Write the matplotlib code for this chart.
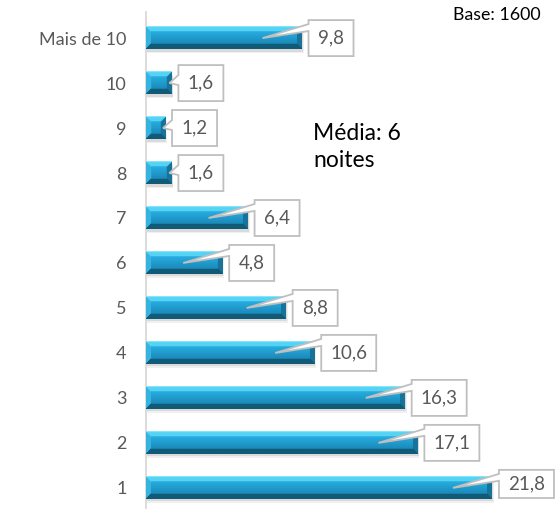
import numpy as np
import matplotlib
matplotlib.use("Agg")
import matplotlib.pyplot as plt
from matplotlib.patches import Polygon
from matplotlib.colors import to_rgb

plt.rcParams['font.family'] = ['Lato', 'DejaVu Sans']

categories = ['1', '2', '3', '4', '5', '6', '7', '8', '9', '10', 'Mais de 10']
values = [21.8, 17.1, 16.3, 10.6, 8.8, 4.8, 6.4, 1.6, 1.2, 1.6, 9.8]
value_labels = ['21,8', '17,1', '16,3', '10,6', '8,8', '4,8', '6,4', '1,6', '1,2', '1,6', '9,8']
note_text = 'Média: 6\nnoites'
base_text = 'Base: 1600'

W, H, DPI = 556, 509, 100
fig = plt.figure(figsize=(W / DPI, H / DPI), dpi=DPI)
ax = fig.add_axes([146 / W, 0, 1 - 146 / W, 497 / H])
XMAX = 410 / 15.87
ax.set_xlim(0, XMAX)
ax.set_ylim(-0.47, 10.58)

bar_h = 0.49
ypos = np.arange(len(categories))

# base bars (data marks)
bars = ax.barh(ypos, values, height=bar_h, color='#1e9bcc', zorder=2)

# drop shadow
for b in bars:
    x0, y0 = b.get_x(), b.get_y()
    w, h = b.get_width(), b.get_height()
    for k, a in [(4, 0.08), (2.5, 0.12)]:
        dy = k / 45.0
        ax.add_patch(plt.Rectangle((x0, y0 - dy), w + k / 15.87 * 0.5, h, color='#404040',
                                   alpha=a, lw=0, zorder=1))

def bevel_img(wpx, hpx, b=5):
    wpx = max(int(round(wpx)), 2)
    hpx = max(int(round(hpx)), 2)
    img = np.zeros((hpx, wpx, 3))
    top = np.array(to_rgb('#55d3f5'))
    bot = np.array(to_rgb('#115a78'))
    left = np.array(to_rgb('#35b4e0'))
    right = np.array(to_rgb('#18739a'))
    f1 = np.array(to_rgb('#27acdf'))
    f2 = np.array(to_rgb('#1a8bbb'))
    for r in range(hpx):
        for c in range(wpx):
            dt, db, dl, dr = r, hpx - 1 - r, c, wpx - 1 - c
            m = min(dt, db, dl, dr)
            if m >= b:
                t = (r - b) / max(hpx - 2 * b - 1, 1)
                img[r, c] = f1 * (1 - t) + f2 * t
            elif m == dt:
                img[r, c] = top if r > 0 else np.array(to_rgb('#86e4fb'))
            elif m == db:
                img[r, c] = bot
            elif m == dl:
                img[r, c] = left
            else:
                img[r, c] = right
    return img

for b, v in zip(bars, values):
    x0, y0 = b.get_x(), b.get_y()
    w, h = b.get_width(), b.get_height()
    img = bevel_img(w * 15.87, h * 45.0)
    ax.imshow(img, extent=(x0, x0 + w, y0, y0 + h), aspect='auto', origin='upper',
              interpolation='bilinear', zorder=3)

ax.set_xlim(0, XMAX)
ax.set_ylim(-0.47, 10.58)

# axes styling
for s in ['top', 'right', 'bottom']:
    ax.spines[s].set_visible(False)
ax.spines['left'].set_color('#d9d9d9')
ax.spines['left'].set_linewidth(1.3)
ax.set_xticks([])
ax.set_yticks(ypos)
ax.set_yticklabels(categories, fontsize=13, color='#595959')
ax.tick_params(axis='y', length=0, pad=14)
ax.set_facecolor('none')

# callouts
inv = ax.transData.inverted()
for i, (v, lab) in enumerate(zip(values, value_labels)):
    ex, yc_d = ax.transData.transform((v, i))
    yc = H - yc_d  # pixel from top
    L = ex + 7
    bw = 10 * len(lab) + 15
    R = min(L + bw, W - 1)
    T = yc - 18
    B = min(yc + 18, 498)
    if v > 3:
        tip = (ex - 39, yc)
        b1, b2 = T + 4, T + 11
    else:
        tip = (ex - 2, yc)
        b1, b2 = T + 10, T + 20
    pts_px = [(L, T), (R, T), (R, B), (L, B), (L, b2), tip, (L, b1)]
    pts = inv.transform([(x, H - y) for x, y in pts_px])
    ax.add_patch(Polygon(pts, closed=True, facecolor='white', edgecolor='#bfbfbf',
                         lw=1.3, zorder=5, clip_on=False))
    cx, cy = inv.transform(((L + R) / 2, H - (T + B) / 2))
    ax.text(cx, cy, lab, ha='center', va='center', fontsize=13.5, color='#595959',
            zorder=6, clip_on=False)

fig.text(313 / W, 1 - 147 / H, note_text, ha='left', va='center', fontsize=16.5,
         color='black', linespacing=1.3)
fig.text(541 / W, 1 - 15 / H, base_text, ha='right', va='center', fontsize=12.8,
         color='black')

fig.savefig('out.png', dpi=DPI)
